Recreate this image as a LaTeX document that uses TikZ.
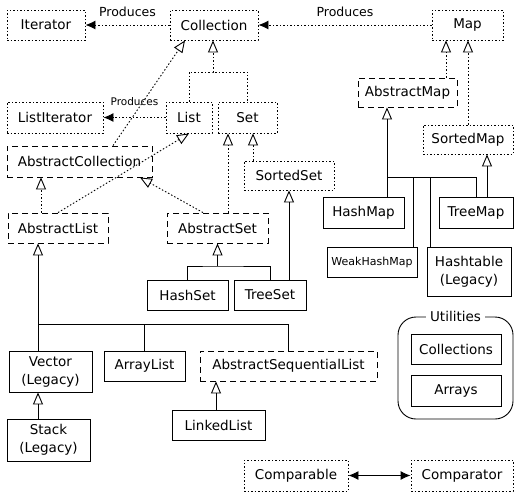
\documentclass[tikz,border=0pt]{standalone}
\usepackage{fontspec}
\setmainfont{DejaVu Sans}
\usetikzlibrary{arrows.meta,calc}

\begin{document}
\begin{tikzpicture}[
    x=1pt, y=-1pt,
    font=\fontsize{13.5}{18}\selectfont,
    cbox/.style 2 args={inner sep=0pt, minimum width=#1pt, minimum height=#2pt,
                        align=center, line width=0.9pt},
    ibox/.style 2 args={cbox={#1}{#2}, draw, dash pattern=on 1.5pt off 2pt},
    abox/.style 2 args={cbox={#1}{#2}, draw, dash pattern=on 6pt off 4pt},
    kbox/.style 2 args={cbox={#1}{#2}, draw},
    iline/.style={line width=0.9pt, dash pattern=on 1.5pt off 2pt},
    cline/.style={line width=0.9pt},
    ext/.style={-{Triangle[open,length=12pt,width=10pt]}},
    prod/.style={iline, -{Latex[length=10pt,width=9pt]}},
    plabel/.style={midway, anchor=south, inner sep=0pt, yshift=8pt,
                   font=\fontsize{12.5}{14}\selectfont}
  ]
    \useasboundingbox (0,0) rectangle (530,499);
    % interfaces, abstract classes and classes
    \node[ibox={78}{30}]  (Iterator)     at (46,25)     {Iterator};
    \node[ibox={88}{30}]  (Collection)   at (214,25)    {Collection};
    \node[ibox={71}{30}]  (Map)          at (467.5,25)  {Map};
    \node[ibox={96}{31}]  (ListIterator) at (55,117.5)  {ListIterator};
    \node[ibox={46}{31}]  (List)         at (189,117.5) {List};
    \node[ibox={59}{31}]  (Set)          at (247.5,117.5) {Set};
    \node[abox={145}{31}] (AbstractCollection) at (79.5,161.5) {AbstractCollection};
    \node[abox={100}{30}] (AbstractList) at (58,228)    {AbstractList};
    \node[abox={101}{30}] (AbstractSet)  at (217.5,228) {AbstractSet};
    \node[ibox={90}{29}]  (SortedSet)    at (289,175.5) {SortedSet};
    \node[kbox={81}{30}]  (HashSet)      at (187.5,295) {HashSet};
    \node[kbox={72}{30}]  (TreeSet)      at (270,295)   {TreeSet};
    \node[abox={99}{29}]  (AbstractMap)  at (407.5,92.5) {AbstractMap};
    \node[ibox={90}{29}]  (SortedMap)    at (468,139.5) {SortedMap};
    \node[kbox={81}{31}]  (HashMap)      at (363.5,212.5) {HashMap};
    \node[kbox={74}{31}]  (TreeMap)      at (476,212.5) {TreeMap};
    \node[kbox={90}{30}, font=\fontsize{11}{12}\selectfont]
                          (WeakHashMap)  at (372,262)   {WeakHashMap};
    \node[kbox={84}{49}]  (Hashtable)    at (469,271.5) {Hashtable\\(Legacy)};
    \node[kbox={83}{41}]  (Vector)       at (50.5,371.5) {Vector\\(Legacy)};
    \node[kbox={81}{30}]  (ArrayList)    at (144.5,366) {ArrayList};
    \node[abox={177}{30}] (AbstractSequentialList) at (288.5,366) {AbstractSequentialList};
    \node[kbox={83}{42}]  (Stack)        at (48.5,440)  {Stack\\(Legacy)};
    \node[kbox={93}{30}]  (LinkedList)   at (218.5,425) {LinkedList};
    \node[kbox={115}{102}, rounded corners=18pt] (Utilities) at (455.5,368) {};
    \node[fill=white, inner sep=4pt] (UtilitiesTitle) at (Utilities.north) {Utilities};
    \node[kbox={90}{30}]  (Collections)  at (456,349)   {Collections};
    \node[kbox={90}{31}]  (Arrays)       at (456,390.5) {Arrays};
    \node[ibox={104}{31}] (Comparable)   at (296,475.5) {Comparable};
    \node[ibox={102}{31}] (Comparator)   at (462,475.5) {Comparator};

    % produces
    \draw[prod] (Collection) -- (Iterator) node[plabel] {Produces};
    \draw[prod] (Map) -- (Collection) node[plabel] {Produces};
    \draw[prod] (List) -- (ListIterator)
      node[plabel, yshift=3pt, font=\fontsize{10.5}{12}\selectfont] {Produces};

    % collection side
    \coordinate (cj) at (213,72);
    \draw[iline] (List.north) |- (cj) -| (Set.north);
    \draw[iline, ext] (cj) -- (cj |- Collection.south);
    \draw[iline, ext] (AbstractCollection.north -| 113,0) -- (Collection.south -| 185,0);
    \draw[iline, ext] (AbstractList.north) -- (List.south);
    \draw[iline, ext] (AbstractList.north -| 41,0) -- (AbstractCollection.south -| 41,0);
    \draw[iline, ext] (AbstractSet.north -| 203,0) -- (AbstractCollection.south -| 140,0);
    \draw[iline, ext] (AbstractSet.north -| 228,0) -- (Set.south -| 228,0);
    \draw[iline, ext] (SortedSet.north -| 253,0) -- (Set.south -| 253,0);
    \coordinate (sj) at (217.5,266);
    \draw[cline] (HashSet.north) |- (sj) -| (TreeSet.north);
    \draw[cline, ext] (sj) -- (AbstractSet.south);
    \draw[cline, ext] (TreeSet.north -| SortedSet.south) -- (SortedSet.south);

    % map side
    \draw[iline, ext] (AbstractMap.north -| 446,0) -- (Map.south -| 446,0);
    \draw[iline, ext] (SortedMap.north) -- (SortedMap.north |- Map.south);
    \coordinate (mj) at (387,177);
    \draw[cline] (HashMap.north -| mj) -- (mj) -| (TreeMap.north);
    \draw[cline] (WeakHashMap.north -| 413,0) -- (mj -| 413,0);
    \draw[cline] (Hashtable.north -| 430,0) -- (mj -| 430,0);
    \draw[cline, ext] (mj) -- (AbstractMap.south -| mj);
    \draw[cline, ext] (TreeMap.north -| 487,0) -- (SortedMap.south -| 487,0);

    % list side
    \coordinate (lj) at (38,324);
    \draw[cline, ext] (lj) -- (AbstractList.south -| lj);
    \draw[cline] (Vector.north -| lj) -- (lj) -| (AbstractSequentialList.north);
    \draw[cline] (ArrayList.north) -- (ArrayList.north |- lj);
    \draw[cline, ext] (Stack.north -| lj) -- (Vector.south -| lj);
    \draw[cline, ext] (LinkedList.north -| 216,0) -- (AbstractSequentialList.south -| 216,0);

    \draw[cline, {Latex[length=10pt,width=9pt]}-{Latex[length=10pt,width=9pt]}]
      (Comparable) -- (Comparator);
\end{tikzpicture}
\end{document}
